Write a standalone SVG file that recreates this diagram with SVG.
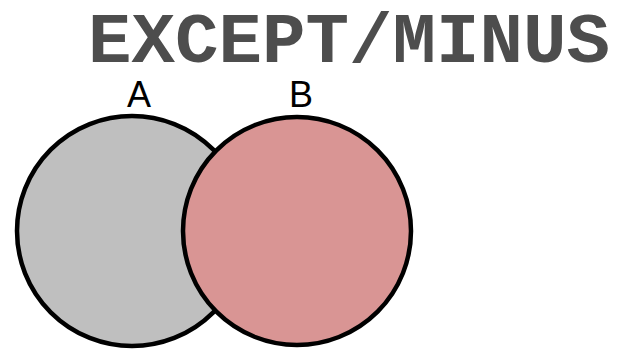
<svg xmlns="http://www.w3.org/2000/svg" width="626" height="350" viewBox="0 0 626 350">
<style>
.set{stroke:#000;stroke-width:4.5}
.lbl{font-family:"Liberation Sans",Arial,sans-serif;font-size:36px;fill:#000;text-anchor:middle}
.title{font-family:"Liberation Mono","Courier New",monospace;font-weight:bold;font-size:71px;fill:#4d4d4d}
</style>
<rect width="626" height="350" fill="#fff"/>
<text class="title" x="88" y="62" textLength="522" lengthAdjust="spacingAndGlyphs">EXCEPT/MINUS</text>
<g id="setA">
<circle class="set" cx="132" cy="231" r="115" fill="#bfbfbf"/>
<text class="lbl" x="139" y="107">A</text>
</g>
<g id="setB">
<circle class="set" cx="297" cy="231" r="114" fill="#d99594"/>
<text class="lbl" x="301" y="107">B</text>
</g>
<g id="connectors"/>
</svg>
